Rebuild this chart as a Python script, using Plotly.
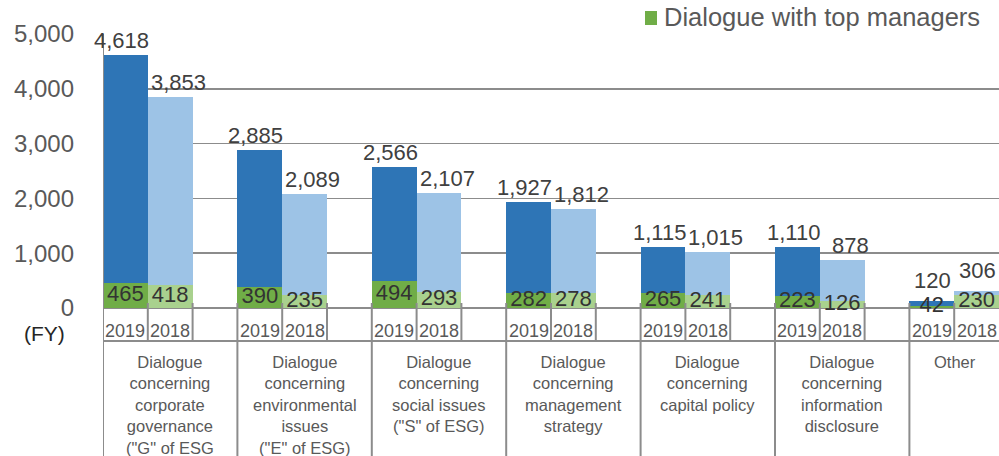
import plotly.graph_objects as go

# ---------------- data ----------------
categories = [
    "Dialogue<br>concerning<br>corporate<br>governance<br>(\"G\" of ESG",
    "Dialogue<br>concerning<br>environmental<br>issues<br>(\"E\" of ESG)",
    "Dialogue<br>concerning<br>social issues<br>(\"S\" of ESG)",
    "Dialogue<br>concerning<br>management<br>strategy",
    "Dialogue<br>concerning<br>capital policy",
    "Dialogue<br>concerning<br>information<br>disclosure",
    "Other",
]
years = ["2019", "2018"]
total_2019 = [4618, 2885, 2566, 1927, 1115, 1110, 120]
total_2018 = [3853, 2089, 2107, 1812, 1015, 878, 306]
top_2019 = [465, 390, 494, 282, 265, 223, 42]
top_2018 = [418, 235, 293, 278, 241, 126, 230]
legend_label = "Dialogue with top managers"
y_ticks = [0, 1000, 2000, 3000, 4000, 5000]

# ---------------- style ----------------
FONT = "Liberation Sans, Arial, sans-serif"
C_DB, C_LB = "#2E75B6", "#9DC3E6"
C_DG, C_LG = "#70AD47", "#A9D18E"
LINE = "#8c8c8c"
W, H = 999, 456
T, B, L = 34, 148, 103
PH = H - T - B  # plot height in px
PW = W - L


def py(px):
    """pixel y -> paper y"""
    return (H - B - px) / PH


def pxx(px):
    """pixel x -> paper x"""
    return (px - L) / PW


n = len(categories)
x19 = [3 * i for i in range(n)]
x18 = [3 * i + 1 for i in range(n)]

fig = go.Figure()
fig.add_bar(x=x19, y=total_2019, width=1, marker=dict(color=C_DB, line_width=0),
            showlegend=False, hoverinfo="skip")
fig.add_bar(x=x18, y=total_2018, width=1, marker=dict(color=C_LB, line_width=0),
            showlegend=False, hoverinfo="skip")
fig.add_bar(x=x19, y=top_2019, width=1, marker=dict(color=C_DG, line_width=0),
            showlegend=False, hoverinfo="skip")
fig.add_bar(x=x18, y=top_2018, width=1, marker=dict(color=C_LG, line_width=0),
            showlegend=False, hoverinfo="skip")
fig.add_scatter(x=x19, y=[v / 2 for v in top_2019], mode="text",
                text=[f"{v:,}" for v in top_2019],
                textfont=dict(size=22, color="#333333", family=FONT),
                cliponaxis=False, showlegend=False, hoverinfo="skip")
fig.add_scatter(x=x18, y=[v / 2 for v in top_2018], mode="text",
                text=[f"{v:,}" for v in top_2018],
                textfont=dict(size=22, color="#333333", family=FONT),
                cliponaxis=False, showlegend=False, hoverinfo="skip")

shapes = []
# left axis line extending through the table
shapes.append(dict(type="line", xref="x", yref="paper", x0=-0.5, x1=-0.5,
                   y0=1, y1=py(H), line=dict(color=LINE, width=2)))
# horizontal line below year row
shapes.append(dict(type="line", xref="x", yref="paper", x0=-0.5, x1=3 * n - 1.5,
                   y0=py(341), y1=py(341), line=dict(color=LINE, width=2)))
# slot separators in year row
for k in range(1, 3 * n - 1):
    shapes.append(dict(type="line", xref="x", yref="paper", x0=k - 0.5, x1=k - 0.5,
                       y0=py(303), y1=py(341), line=dict(color=LINE, width=2)))
# group separators in category row
for g in range(1, n):
    shapes.append(dict(type="line", xref="x", yref="paper", x0=3 * g - 0.5, x1=3 * g - 0.5,
                       y0=py(341), y1=py(H), line=dict(color=LINE, width=2)))
# legend marker
shapes.append(dict(type="rect", xref="paper", yref="paper",
                   x0=pxx(645), x1=pxx(657), y0=py(25), y1=py(11),
                   fillcolor=C_DG, line_width=0))

annotations = []
# total value labels above bars
for xs, vals, dx in ((x19, total_2019, -4), (x18, total_2018, 8)):
    for i, (xv, v) in enumerate(zip(xs, vals)):
        last = i == n - 1
        annotations.append(dict(xref="x", yref="y", x=xv, y=v, text=f"{v:,}",
                                showarrow=False, xanchor="center", yanchor="bottom",
                                xshift=(1 if last else dx), yshift=(6 if last else 0),
                                font=dict(size=22, color="#404040", family=FONT)))
for i in range(n):
    for xv, yr in ((x19[i], years[0]), (x18[i], years[1])):
        annotations.append(dict(xref="x", yref="paper", x=xv, y=py(331), text=yr,
                                showarrow=False, yanchor="middle",
                                font=dict(size=18, color="#595959", family=FONT)))
for i, c in enumerate(categories):
    xpos = pxx(L + (3 * i + 1.5) * PW / (3 * n - 1)) if i < n - 1 else pxx(955)
    annotations.append(dict(xref="paper", yref="paper", x=xpos, y=py(351), text=c,
                            showarrow=False, xanchor="center", yanchor="top", align="center",
                            font=dict(size=16.5, color="#595959", family=FONT)))
annotations.append(dict(xref="paper", yref="paper", x=pxx(45), y=py(333),
                        text="(FY)", showarrow=False, xanchor="center", yanchor="middle",
                        font=dict(size=21, color="#262626", family=FONT)))
annotations.append(dict(xref="paper", yref="paper", x=pxx(662), y=py(17),
                        text=legend_label, showarrow=False, xanchor="left", yanchor="middle",
                        font=dict(size=25.5, color="#595959", family=FONT)))

fig.update_layout(
    width=W, height=H,
    margin=dict(l=L, r=0, t=T, b=B, autoexpand=False),
    paper_bgcolor="white", plot_bgcolor="white",
    barmode="overlay", bargap=0,
    shapes=shapes, annotations=annotations,
    font=dict(family=FONT),
    hovermode=False,
    xaxis=dict(range=[-0.5, 3 * n - 1.5], showticklabels=False, showgrid=False,
               zeroline=False, showline=False, fixedrange=True, automargin=False),
    yaxis=dict(range=[0, 5000], tickvals=y_ticks, tickformat=",",
               tickfont=dict(size=24, color="#595959", family=FONT),
               showgrid=True, gridcolor=LINE, gridwidth=1.5,
               zeroline=True, zerolinecolor=LINE, zerolinewidth=2,
               showline=False, ticks="", ticklabelstandoff=28, automargin=False,
               fixedrange=True),
)

fig.write_html("out.html", config={"displayModeBar": False, "staticPlot": True},
               post_script="document.body.style.margin='0';document.body.style.overflow='hidden';")
